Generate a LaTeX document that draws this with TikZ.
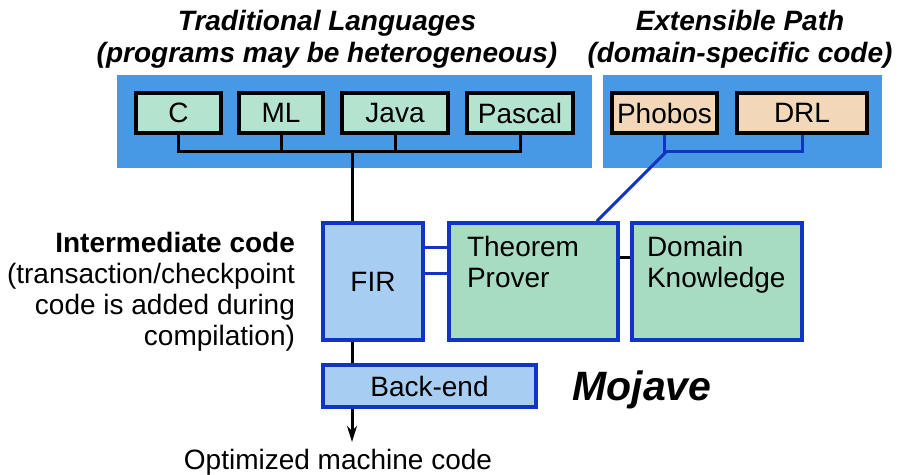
\documentclass[tikz,border=0pt]{standalone}
\usepackage{fontspec}
\setmainfont{Liberation Sans}
\usepackage{xcolor}
\usepackage{tikz}
\usetikzlibrary{arrows.meta}

\definecolor{panelblue}{HTML}{4799E6}
\definecolor{langgreen}{HTML}{B4E4D0}
\definecolor{extpeach}{HTML}{F2D8B8}
\definecolor{firblue}{HTML}{A8CDF2}
\definecolor{provergreen}{HTML}{A8DCC2}
\definecolor{edgeblue}{HTML}{1234C4}

\tikzset{
    txt/.style={font=\fontsize{14pt}{15.5pt}\selectfont},
    langbox/.style={draw, line width=1.75pt, fill=langgreen, minimum height=20pt, inner sep=0pt, txt},
    extbox/.style={langbox, fill=extpeach},
    irbox/.style={draw=edgeblue, line width=1.75pt, inner sep=0pt, txt}
}

\begin{document}
\begin{tikzpicture}[x=0.5pt, y=-0.5pt]
        \useasboundingbox (0,0) rectangle (910,475);

        % Titles
        \node[txt, font=\fontsize{14pt}{16pt}\selectfont\bfseries\itshape, align=center] (tradtitle) at (327, 39) {Traditional Languages\\(programs may be heterogeneous)};
        \node[txt, font=\fontsize{14pt}{16pt}\selectfont\bfseries\itshape, align=center] (exttitle) at (740, 39) {Extensible Path\\(domain-specific code)};

        % Blue panels
        \fill[panelblue] (117, 75) rectangle (592, 168);
        \fill[panelblue] (603, 75) rectangle (882, 168);

        % Source languages
        \node[langbox, minimum width=42.5pt] (c) at (178.5, 113) {C};
        \node[langbox, minimum width=42pt] (ml) at (281, 113) {ML};
        \node[langbox, minimum width=53pt] (java) at (395, 113) {Java};
        \node[langbox, minimum width=53pt] (pascal) at (520, 113) {Pascal};

        % Domain-specific languages
        \node[extbox, minimum width=52.5pt] (phobos) at (664.5, 113) {Phobos};
        \node[extbox, minimum width=65pt] (drl) at (802, 113) {DRL};

        % Compiler stages
        \node[irbox, fill=firblue, minimum width=50pt, minimum height=58.5pt] (fir) at (373, 281.5) {FIR};
        \node[irbox, fill=provergreen, minimum width=84.5pt, minimum height=58.5pt, align=left, text width=66.5pt, inner xsep=9pt] (prover) at (533.5, 281.5) {Theorem\\Prover\\[4pt]\mbox{}};
        \node[irbox, fill=provergreen, minimum width=85pt, minimum height=58.5pt, align=left, text width=70pt, inner xsep=7.5pt] (domain) at (717, 281.5) {Domain\\Knowledge\\[4pt]\mbox{}};
        \node[irbox, fill=firblue, minimum width=106.5pt, minimum height=21pt] (backend) at (429.5, 386) {Back-end};

        % Side labels
        \node[txt, anchor=east, align=right] (irlabel) at (302, 292) {\textbf{Intermediate code}\\(transaction/checkpoint\\code is added during\\compilation)};
        \node[txt, font=\fontsize{20.5pt}{24pt}\selectfont\bfseries\itshape] (mojave) at (642, 390) {Mojave};
        \node[txt] (out) at (338, 462) {Optimized machine code};

        % Language bus
        \coordinate (langbus) at (352, 152);
        \coordinate (extbus) at (666, 152);
        \draw[line width=1.5pt] (c.south) |- (langbus) -| (pascal.south);
        \draw[line width=1.5pt] (ml.south) -- (ml.south |- langbus);
        \draw[line width=1.5pt] (java.south) -- (java.south |- langbus);
        \draw[line width=1.5pt] (langbus) -- (langbus |- fir.north);
        \draw[line width=1.5pt] (langbus |- fir.south) -- (langbus |- backend.north);
        \draw[line width=1.5pt, -{Stealth[length=8pt, width=5pt]}] (langbus |- backend.south) -- (langbus |- out.north);

        % Extensible path links
        \draw[edgeblue, line width=1.5pt] (phobos.south) |- (extbus) -| (drl.south);
        \draw[edgeblue, line width=1.5pt] (extbus) -- ([xshift=-11.5pt]prover.north east);

        % Links between stages
        \draw[edgeblue, line width=1.5pt] ([yshift=-13pt]fir.north east) -- ([yshift=-13pt]prover.north west);
        \draw[edgeblue, line width=1.5pt] ([yshift=-26pt]fir.north east) -- ([yshift=-26pt]prover.north west);
        \draw[line width=1.5pt] ([yshift=-18pt]prover.north east) -- ([yshift=-18pt]domain.north west);
    \end{tikzpicture}
\end{document}
